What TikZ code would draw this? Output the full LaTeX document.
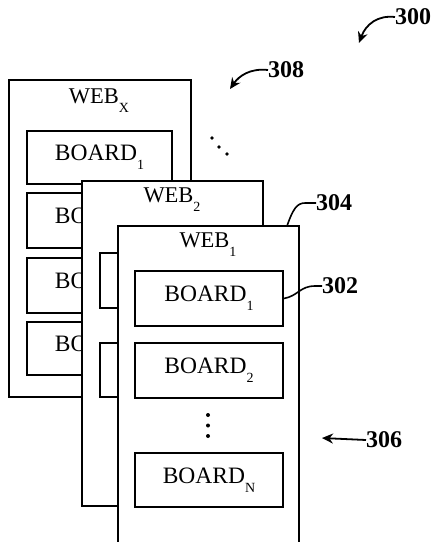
\documentclass[tikz,border=0pt]{standalone}
\usepackage{fontspec}
\setmainfont{Liberation Serif}
\usetikzlibrary{arrows.meta}
\newcommand{\lowsub}[1]{\raisebox{-0.4em}{\fontsize{14}{14}\selectfont #1}}
\tikzset{
  frame/.style={draw, line width=1.7pt, fill=white, rectangle, inner sep=0pt},
  brd/.style={draw, line width=1.7pt, fill=white, rectangle, inner sep=0pt,
     font=\fontsize{23.5}{23.5}\selectfont},
  webtxt/.style={font=\fontsize{22.5}{22.5}\selectfont, inner sep=0pt},
  num/.style={font=\fontsize{24}{24}\selectfont\bfseries, inner sep=0pt},
  lead/.style={line width=1.6pt},
  arr/.style={line width=1.8pt, -{Stealth[length=11pt,width=10pt]}}
}
\begin{document}
\begin{tikzpicture}[x=1pt,y=-1pt]
\clip (0,0) rectangle (433,542);
\fill[white] (0,0) rectangle (433,542);
% WEB_X
\node[frame, minimum width=182pt, minimum height=317pt] (webx) at (100,238.5) {};
\node[webtxt] (webxl) at (99,101) {WEB\lowsub{X}};
\node[brd, minimum width=145pt, minimum height=53pt] (bx1) at (99.5,157.5) {BOARD\lowsub{1}};
\node[brd, minimum width=145pt, minimum height=55pt] (bx2) at (99.5,220.5) {BOARD\lowsub{2}};
\node[brd, minimum width=145pt, minimum height=55pt] (bx3) at (99.5,285.5) {BOARD\lowsub{3}};
\node[brd, minimum width=145pt, minimum height=53pt] (bx4) at (99.5,348.5) {BOARD\lowsub{4}};
% dots between webs
\fill (212,138) circle (1.8pt) (219,147) circle (1.8pt) (227,154) circle (1.8pt);
% WEB_2
\node[frame, minimum width=181pt, minimum height=325pt] (web2) at (172.5,343.5) {};
\node[webtxt] (web2l) at (172,200) {WEB\lowsub{2}};
\node[brd, minimum width=148pt, minimum height=55pt] (b21) at (174,280.5) {};
\node[brd, minimum width=148pt, minimum height=54pt] (b22) at (174,370) {};
% WEB_1
\node[frame, minimum width=181pt, minimum height=334pt] (web1) at (208.5,393) {};
\node[webtxt] (web1l) at (208,245) {WEB\lowsub{1}};
\node[brd, minimum width=148pt, minimum height=55pt] (b11) at (209,298.5) {BOARD\lowsub{1}};
\node[brd, minimum width=148pt, minimum height=55pt] (b12) at (209,370.5) {BOARD\lowsub{2}};
\node[brd, minimum width=148pt, minimum height=54pt] (b1n) at (209,480) {BOARD\lowsub{N}};
\fill (208,415) circle (2pt) (208,425.5) circle (2pt) (208,436) circle (2pt);
% reference numerals
\node[num, anchor=west] (n300) at (395,17) {300};
\coordinate (a300) at (359,43);
\draw[arr] (n300.west) .. controls (378,15) and (366,24) .. (a300);
\node[num, anchor=west] (n308) at (268,70) {308};
\coordinate (a308) at (230,89);
\draw[arr] (n308.west) .. controls (250,68) and (239,76) .. (a308);
\node[num, anchor=west] (n304) at (316,203) {304};
\coordinate (a304) at (287,226);
\draw[lead] (n304.west) -- (305,203) .. controls (297,203) and (293,209) .. (a304);
\node[num, anchor=west] (n302) at (322,286) {302};
\draw[lead] (n302.west) -- (315,286) .. controls (300,286) and (298,296) .. (b11.east);
\node[num, anchor=west] (n306) at (366,440) {306};
\coordinate (a306) at (322,438);
\draw[arr] (n306.west) -- (a306);
\end{tikzpicture}
\end{document}
